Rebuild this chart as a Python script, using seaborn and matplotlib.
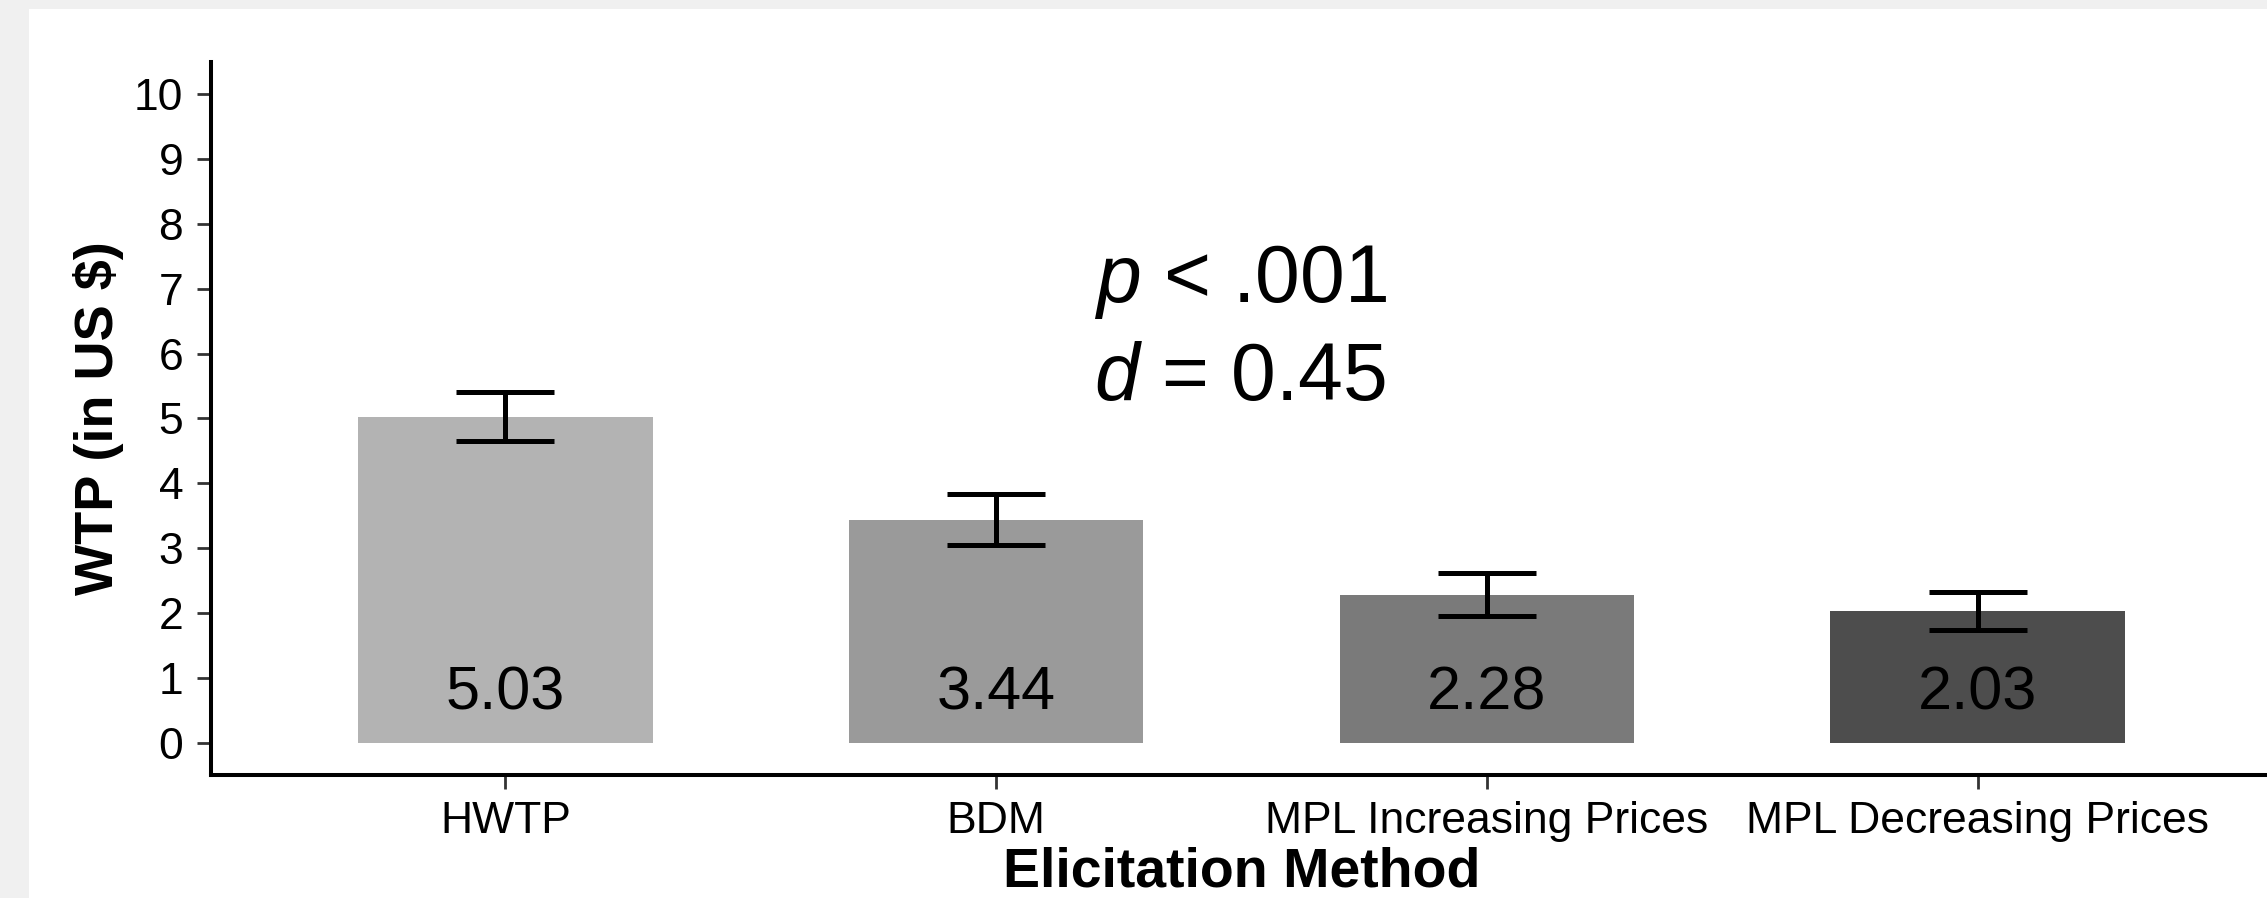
import matplotlib
matplotlib.use("Agg")
import matplotlib.pyplot as plt
import pandas as pd
import seaborn as sns
from matplotlib.patches import Rectangle

# Data
methods = ["HWTP", "BDM", "MPL Increasing Prices", "MPL Decreasing Prices"]
wtp_means = [5.03, 3.44, 2.28, 2.03]
wtp_se = [0.38, 0.39, 0.33, 0.29]
bar_colors = ["#b3b3b3", "#9a9a9a", "#7a7a7a", "#4d4d4d"]
y_ticks = list(range(0, 11))
stat_symbols = ["p", "d"]
stat_values = ["< .001", "= 0.45"]

sns.set_theme(style="ticks")
plt.rcParams["font.family"] = ["Liberation Sans", "DejaVu Sans"]
plt.rcParams["mathtext.fontset"] = "custom"
plt.rcParams["mathtext.rm"] = "Liberation Sans"
plt.rcParams["mathtext.it"] = "Liberation Sans:italic"

df = pd.DataFrame({"method": methods, "wtp": wtp_means})

fig = plt.figure(figsize=(22.67, 8.98), dpi=100, facecolor="#f0f0f0")
# white panel, offset from the top-left corner
fig.patches.append(Rectangle((29 / 2267, 0), 1, (898 - 9) / 898,
                             transform=fig.transFigure, facecolor="white",
                             edgecolor="none", zorder=-5))

ax = fig.add_axes([211 / 2267, 123 / 898, 2061 / 2267, 713 / 898])
ax.set_zorder(2)
ax.set_facecolor("none")

sns.barplot(data=df, x="method", y="wtp", hue="method", order=methods,
            hue_order=methods, palette=bar_colors, saturation=1, width=0.6,
            errorbar=None, legend=False, linewidth=0, ax=ax)

ax.errorbar(range(len(methods)), wtp_means, yerr=wtp_se, fmt="none",
            ecolor="black", elinewidth=3.6, capsize=35, capthick=3.6, zorder=3)

for i, m in enumerate(wtp_means):
    ax.text(i, 0.51, f"{m:.2f}", ha="center", va="baseline", fontsize=44,
            color="black", zorder=4)

# stats annotation
for sym, val, y in zip(stat_symbols, stat_values, [6.80, 5.29]):
    ax.text(1.2, y, rf"$\mathit{{{sym}}}$ {val}", ha="left", va="baseline",
            fontsize=58, color="black")

ax.set_xlim(-0.6, 3.6)
ax.set_ylim(-0.5, 10.5)
ax.set_yticks(y_ticks)

ax.set_xlabel("Elicitation Method", fontsize=40, fontweight="bold",
              va="baseline", color="black")
ax.set_ylabel("WTP (in US $)", fontsize=39, fontweight="bold",
              va="center", color="black")
ax.xaxis.set_label_coords(0.5, -0.1557)
ax.yaxis.set_label_coords(-0.0548, 0.5)

sns.despine(ax=ax)
for side in ["left", "bottom"]:
    ax.spines[side].set_linewidth(2.9)
    ax.spines[side].set_color("black")

ax.tick_params(axis="both", labelsize=32, colors="#333333", width=2,
               length=10, labelcolor="black")
ax.tick_params(axis="y", pad=10)
ax.tick_params(axis="x", pad=9)

fig.savefig("out.png", dpi=100, facecolor=fig.get_facecolor())
